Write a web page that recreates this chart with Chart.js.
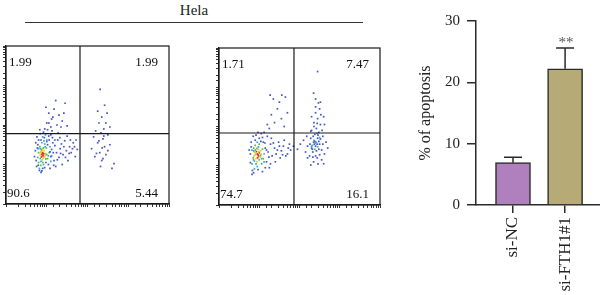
<!DOCTYPE html>
<html>
<head>
<meta charset="utf-8">
<script src="https://cdn.jsdelivr.net/npm/chart.js@4.4.0/dist/chart.umd.min.js"></script>
<style>
  body { margin: 0; width: 600px; height: 295px; position: relative; overflow: hidden; background: #fff; font-family: "Liberation Serif", serif; }
  canvas { position: absolute; left: 0; top: 0; }
  #cellLine { position: absolute; left: 25px; top: 2px; width: 338px; height: 20px; border-bottom: 1.3px solid #333; text-align: center; font: 15px/16px "Liberation Serif", serif; color: #222; }
</style>
</head>
<body>
<div id="cellLine">Hela</div>
<canvas id="flowNC" width="600" height="295"></canvas>
<canvas id="flowFTH" width="600" height="295"></canvas>
<canvas id="barChart" width="600" height="295"></canvas>
<script>
// flow plots: dots in log10 decades [annexin, PI]
const ncRed = [[0.88,1.25],[0.91,1.22],[0.90,1.30],[0.93,1.27],[0.87,1.19],[0.89,1.28]];
const ncYellow = [[0.86,1.33],[0.95,1.20],[0.89,1.12],[0.94,1.35],[0.84,1.24],[0.97,1.28],[0.90,1.40],[0.92,1.16],
  [0.88,1.35],[0.85,1.30],[0.96,1.24]];
const ncGreen = [[0.80,1.05],[0.83,1.45],[0.99,1.42],[1.02,1.15],[0.85,0.98],[0.95,1.52],[1.06,1.30],[0.80,1.30],
  [0.87,1.38],[0.92,1.42],[0.98,1.14],[0.84,1.15],[1.00,1.25],[0.90,1.05]];
const ncCyan = [[0.92,1.00],[1.08,1.45],[0.78,1.18],[0.88,1.55],[1.00,1.62],[0.82,0.90],[1.12,1.22],[0.97,1.75],
  [0.84,1.40],[0.96,1.45],[1.04,1.22],[0.86,1.08],[0.93,1.60],[0.79,1.40],[1.10,1.08],[0.90,1.70]];
const ncBlue = [
  [0.75,0.95],[0.78,1.50],[0.82,0.85],[0.86,1.62],[0.90,0.90],[0.94,1.68],[0.98,1.05],[1.00,1.58],
  [1.04,1.00],[1.05,1.72],[1.10,1.20],[1.12,1.38],[1.15,1.55],[1.18,1.10],[1.20,1.48],[1.24,1.30],
  [1.27,1.62],[1.30,1.18],[1.33,1.40],[1.36,1.52],[1.40,1.25],[1.44,1.60],[1.48,1.35],[1.52,1.10],
  [1.56,1.45],[1.60,1.30],[1.65,1.55],[1.70,1.20],[0.76,1.70],[0.84,1.78],[0.92,1.82],[1.02,1.88],
  [0.72,1.35],[0.74,1.10],[1.08,0.90],[1.22,0.95],[1.38,1.00],[1.75,1.38],[0.86,0.80],[1.14,1.68],
  [0.80,1.62],[0.77,1.42],[0.79,0.98],[0.88,0.84],[0.95,0.92],[1.02,1.50],[1.06,1.62],[1.10,1.75],
  [1.16,1.30],[1.20,1.62],[0.83,1.88],[0.95,1.90],[1.13,1.85],[1.28,1.80],[1.32,1.68],[1.42,1.45],
  [1.50,1.72],[1.58,1.62],[1.63,1.40],[1.26,1.12],[1.34,1.28],[1.46,1.18],[0.73,1.55],[0.70,1.20],
  [1.08,1.32],[1.17,0.98],[1.55,1.28],[1.68,1.45],[1.72,1.62],
  [1.00,2.05],[1.05,2.30],[1.12,2.15],[1.18,2.40],[1.25,2.00],[1.30,2.25],[1.38,2.10],[1.10,1.95],
  [1.45,2.55],[1.22,2.62],[0.98,2.45],[1.35,1.95],[1.15,2.20],[1.42,2.30],[1.05,2.05],[1.50,1.98],
  [2.10,1.40],[2.18,1.20],[2.25,1.55],[2.30,1.30],[2.35,1.10],[2.38,1.65],[2.42,1.45],[2.45,1.25],
  [2.20,1.85],[2.28,2.05],[2.35,2.20],[2.40,1.90],[2.48,2.30],[2.32,0.95],[2.50,1.75],[2.55,1.50],
  [2.25,2.35],[2.42,2.50],[2.15,1.70],[2.60,0.90],[2.31,2.90],[2.65,1.02],
  [2.22,1.28],[2.36,1.42],[2.40,1.72],[2.28,1.60],[2.45,2.05],[2.33,1.80],[2.50,1.35],[2.38,1.15],[2.55,1.95]
];
const ncGate = [1.816, 1.78];
const ncQuadrants = ['1.99', '1.99', '90.6', '5.44'];

const fthRed = [[0.95,1.30],[0.98,1.25],[0.93,1.36],[1.00,1.33],[0.96,1.20],[0.97,1.28]];
const fthYellow = [[0.90,1.28],[1.03,1.38],[0.92,1.18],[1.02,1.22],[0.97,1.42],[0.88,1.35],[1.05,1.30],[0.94,1.10],
  [0.91,1.32],[0.87,1.25],[0.99,1.36]];
const fthGreen = [[0.85,1.20],[0.86,1.45],[1.08,1.42],[1.10,1.18],[0.90,1.52],[1.00,1.55],[2.32,1.52],[2.45,1.48],[2.38,1.42],
  [0.90,1.40],[0.94,1.44],[1.00,1.15],[0.86,1.15],[1.03,1.26],[0.92,1.05],[2.40,1.58]];
const fthCyan = [[0.82,1.05],[0.95,0.98],[1.12,1.30],[0.88,0.92],[1.06,1.05],[2.42,1.60],[2.50,1.72],
  [0.86,1.38],[0.98,1.48],[1.06,1.18],[0.88,1.12],[0.95,1.60],[0.82,1.40],[1.12,1.10],[2.36,1.65],[2.44,1.82],[2.30,1.50]];
const fthBlue = [
  [0.80,1.60],[0.78,1.30],[0.83,0.88],[0.90,1.65],[1.00,1.70],[1.10,1.60],[1.15,1.45],[1.18,1.10],
  [1.22,1.35],[1.28,1.55],[1.32,1.25],[1.38,1.45],[1.42,1.30],[1.48,1.60],[1.55,1.38],[1.60,1.50],
  [1.66,1.25],[1.72,1.45],[1.78,1.40],[0.82,0.78],[1.08,0.85],[1.25,0.95],[1.40,1.10],[1.52,1.20],
  [0.92,1.78],[1.05,1.82],[1.20,1.75],
  [0.80,1.48],[0.78,1.08],[0.86,0.82],[0.97,0.90],[1.04,1.62],[1.08,1.72],[1.14,1.58],[1.18,1.40],
  [1.24,1.22],[0.85,1.75],[0.97,1.85],[1.12,1.85],[1.30,1.70],[1.35,1.58],[1.45,1.40],[1.50,1.50],
  [1.58,1.28],[1.62,1.65],[1.70,1.30],[1.75,1.55],[1.15,0.95],[0.75,1.40],[1.28,1.05],
  [1.20,2.05],[1.30,2.30],[1.38,2.10],[1.45,2.45],[1.55,2.20],[1.62,2.00],[1.70,2.35],[1.25,1.95],
  [1.50,2.62],[1.35,2.70],[1.65,2.75],[1.27,2.80],[1.56,2.80],
  [1.85,1.50],[1.95,1.42],[2.02,1.55],
  [2.30,1.45],[2.35,1.60],[2.40,1.50],[2.45,1.70],[2.50,1.55],[2.38,1.80],[2.42,1.95],[2.48,1.85],
  [2.33,1.35],[2.55,1.40],[2.28,1.70],[2.52,2.05],[2.45,2.20],[2.40,2.35],[2.50,2.45],[2.36,2.10],
  [2.58,1.75],[2.25,1.25],[2.20,1.50],[2.62,1.30],[2.44,1.20],[2.35,1.10],[2.55,1.15],[2.60,2.25],
  [2.47,2.60],[2.40,2.70],[2.15,1.35],[2.10,1.65],[2.66,1.60],[2.70,1.45],[2.30,1.90],[2.53,2.30],
  [2.42,1.38],[2.37,1.55],[2.48,1.62],[2.28,1.02],[2.45,3.40],
  [2.32,1.42],[2.38,1.62],[2.44,1.55],[2.46,1.78],[2.34,1.75],[2.52,1.68],[2.40,1.25],[2.48,1.42],
  [2.36,2.00],[2.44,2.08],[2.30,2.25],[2.56,1.90],[2.26,1.55],[2.50,1.28],[2.58,1.55],[2.33,1.22],
  [2.20,1.20],[2.62,2.05],[2.40,2.50],[2.52,2.62],[2.35,2.85],[2.46,1.05],[2.60,1.05],[2.18,1.75],[2.28,1.88]
];
const fthGate = [1.863, 1.834];
const fthQuadrants = ['1.71', '7.47', '74.7', '16.1'];

// bar chart
const groups = ['si-NC', 'si-FTH1#1'];
const apoptosis = [6.9, 22.2];
const apoptosisErr = [0.9, 3.4];
const significance = ['', '**'];

const dotColors = ['#e3261f', '#ecc52b', '#49bd52', '#3aa6d6', '#4357c6'];

const flowGate = {
  id: 'flowGate',
  afterDatasetsDraw(chart, args, opts) {
    const { ctx, chartArea: a, scales: { x, y } } = chart;
    const gx = x.getPixelForValue(10 ** opts.gate[0]);
    const gy = y.getPixelForValue(10 ** opts.gate[1]);
    ctx.save();
    ctx.strokeStyle = '#1a1a1a';
    ctx.lineWidth = 1.2;
    ctx.strokeRect(a.left, a.top, a.right - a.left, a.bottom - a.top);
    ctx.beginPath();
    ctx.moveTo(gx, a.top); ctx.lineTo(gx, a.bottom);
    ctx.moveTo(a.left, gy); ctx.lineTo(a.right, gy);
    ctx.stroke();
    ctx.fillStyle = '#111';
    ctx.font = '13px "Liberation Serif", serif';
    ctx.textBaseline = 'alphabetic';
    const q = opts.quads;
    ctx.textAlign = 'left';
    ctx.fillText(q[0], a.left + 3, a.top + 20);
    ctx.fillText(q[2], a.left + 1, a.bottom - 7);
    ctx.textAlign = 'right';
    ctx.fillText(q[1], a.right - 11, a.top + 20);
    ctx.fillText(q[3], a.right - 11, a.bottom - 7);
    ctx.restore();
  }
};

function flowChart(id, dots, gate, quads, pad) {
  const axis = {
    type: 'logarithmic', min: 1, max: 1e4,
    ticks: { display: false },
    grid: { drawOnChartArea: false, tickLength: 3, color: '#333', lineWidth: 1 },
    border: { color: '#1a1a1a', width: 1.2 }
  };
  return new Chart(document.getElementById(id), {
    type: 'scatter',
    data: {
      datasets: dots.map((d, i) => ({
        data: d.map(p => ({ x: 10 ** p[0], y: 10 ** p[1] })),
        pointBackgroundColor: dotColors[i],
        pointBorderWidth: 0,
        pointRadius: 1.2,
        pointStyle: 'rect'
      })).reverse()
    },
    options: {
      responsive: false, animation: false, events: [],
      layout: { padding: pad },
      plugins: { legend: { display: false }, tooltip: { enabled: false }, flowGate: { gate, quads } },
      scales: {
        x: { ...axis, afterFit: s => { s.height = 5; } },
        y: { ...axis, afterFit: s => { s.width = 5; } }
      }
    },
    plugins: [flowGate]
  });
}

flowChart('flowNC', [ncRed, ncYellow, ncGreen, ncCyan, ncBlue], ncGate, ncQuadrants,
  { left: 1, right: 431, top: 46, bottom: 86 });
flowChart('flowFTH', [fthRed, fthYellow, fthGreen, fthCyan, fthBlue], fthGate, fthQuadrants,
  { left: 214, right: 220, top: 48, bottom: 85 });

const errorBars = {
  id: 'errorBars',
  afterDatasetsDraw(chart) {
    const { ctx, scales: { y } } = chart;
    const meta = chart.getDatasetMeta(0);
    ctx.save();
    ctx.strokeStyle = '#2a2a2a';
    ctx.lineWidth = 1.5;
    meta.data.forEach((bar, i) => {
      const top = y.getPixelForValue(apoptosis[i] + apoptosisErr[i]);
      ctx.beginPath();
      ctx.moveTo(bar.x, bar.y); ctx.lineTo(bar.x, top);
      ctx.moveTo(bar.x - 9, top); ctx.lineTo(bar.x + 9, top);
      ctx.stroke();
      if (significance[i]) {
        ctx.fillStyle = '#555';
        ctx.font = '15px "Liberation Serif", serif';
        ctx.textAlign = 'center';
        ctx.fillText(significance[i], bar.x + 1, top - 1);
      }
    });
    ctx.restore();
  }
};

const serif = '"Liberation Serif", serif';

new Chart(document.getElementById('barChart'), {
  type: 'bar',
  data: {
    datasets: [{
      data: apoptosis.map((v, i) => ({ x: i, y: v })),
      backgroundColor: ['#b07fbe', '#b6aa77'],
      borderColor: '#2a2a2a',
      borderWidth: 1.5,
      barThickness: 35
    }]
  },
  options: {
    responsive: false, animation: false, events: [],
    layout: { padding: { left: 416, right: 0, top: 21, bottom: 0 } },
    plugins: { legend: { display: false }, tooltip: { enabled: false } },
    scales: {
      x: {
        type: 'linear', min: -0.71, max: 1.67, offset: false,
        afterBuildTicks: s => { s.ticks = groups.map((g, i) => ({ value: i })); },
        afterFit: s => { s.height = 90; },
        ticks: {
          callback: v => groups[v], minRotation: 90, maxRotation: 90, autoSkip: false,
          color: '#222', padding: 4, font: { family: serif, size: 17 }
        },
        grid: { offset: false, drawOnChartArea: false, tickLength: 8, color: '#2a2a2a', lineWidth: 1.5 },
        border: { color: '#2a2a2a', width: 1.5 }
      },
      y: {
        min: 0, max: 30,
        afterFit: s => { s.width = 60; },
        ticks: { stepSize: 10, color: '#222', padding: 7, font: { family: serif, size: 15 } },
        grid: { drawOnChartArea: false, tickLength: 9, color: '#2a2a2a', lineWidth: 1.5 },
        border: { color: '#2a2a2a', width: 1.5 },
        title: { display: true, text: '% of apoptosis', color: '#222', padding: 0, font: { family: serif, size: 16 } }
      }
    }
  },
  plugins: [errorBars]
});
</script>
</body>
</html>
